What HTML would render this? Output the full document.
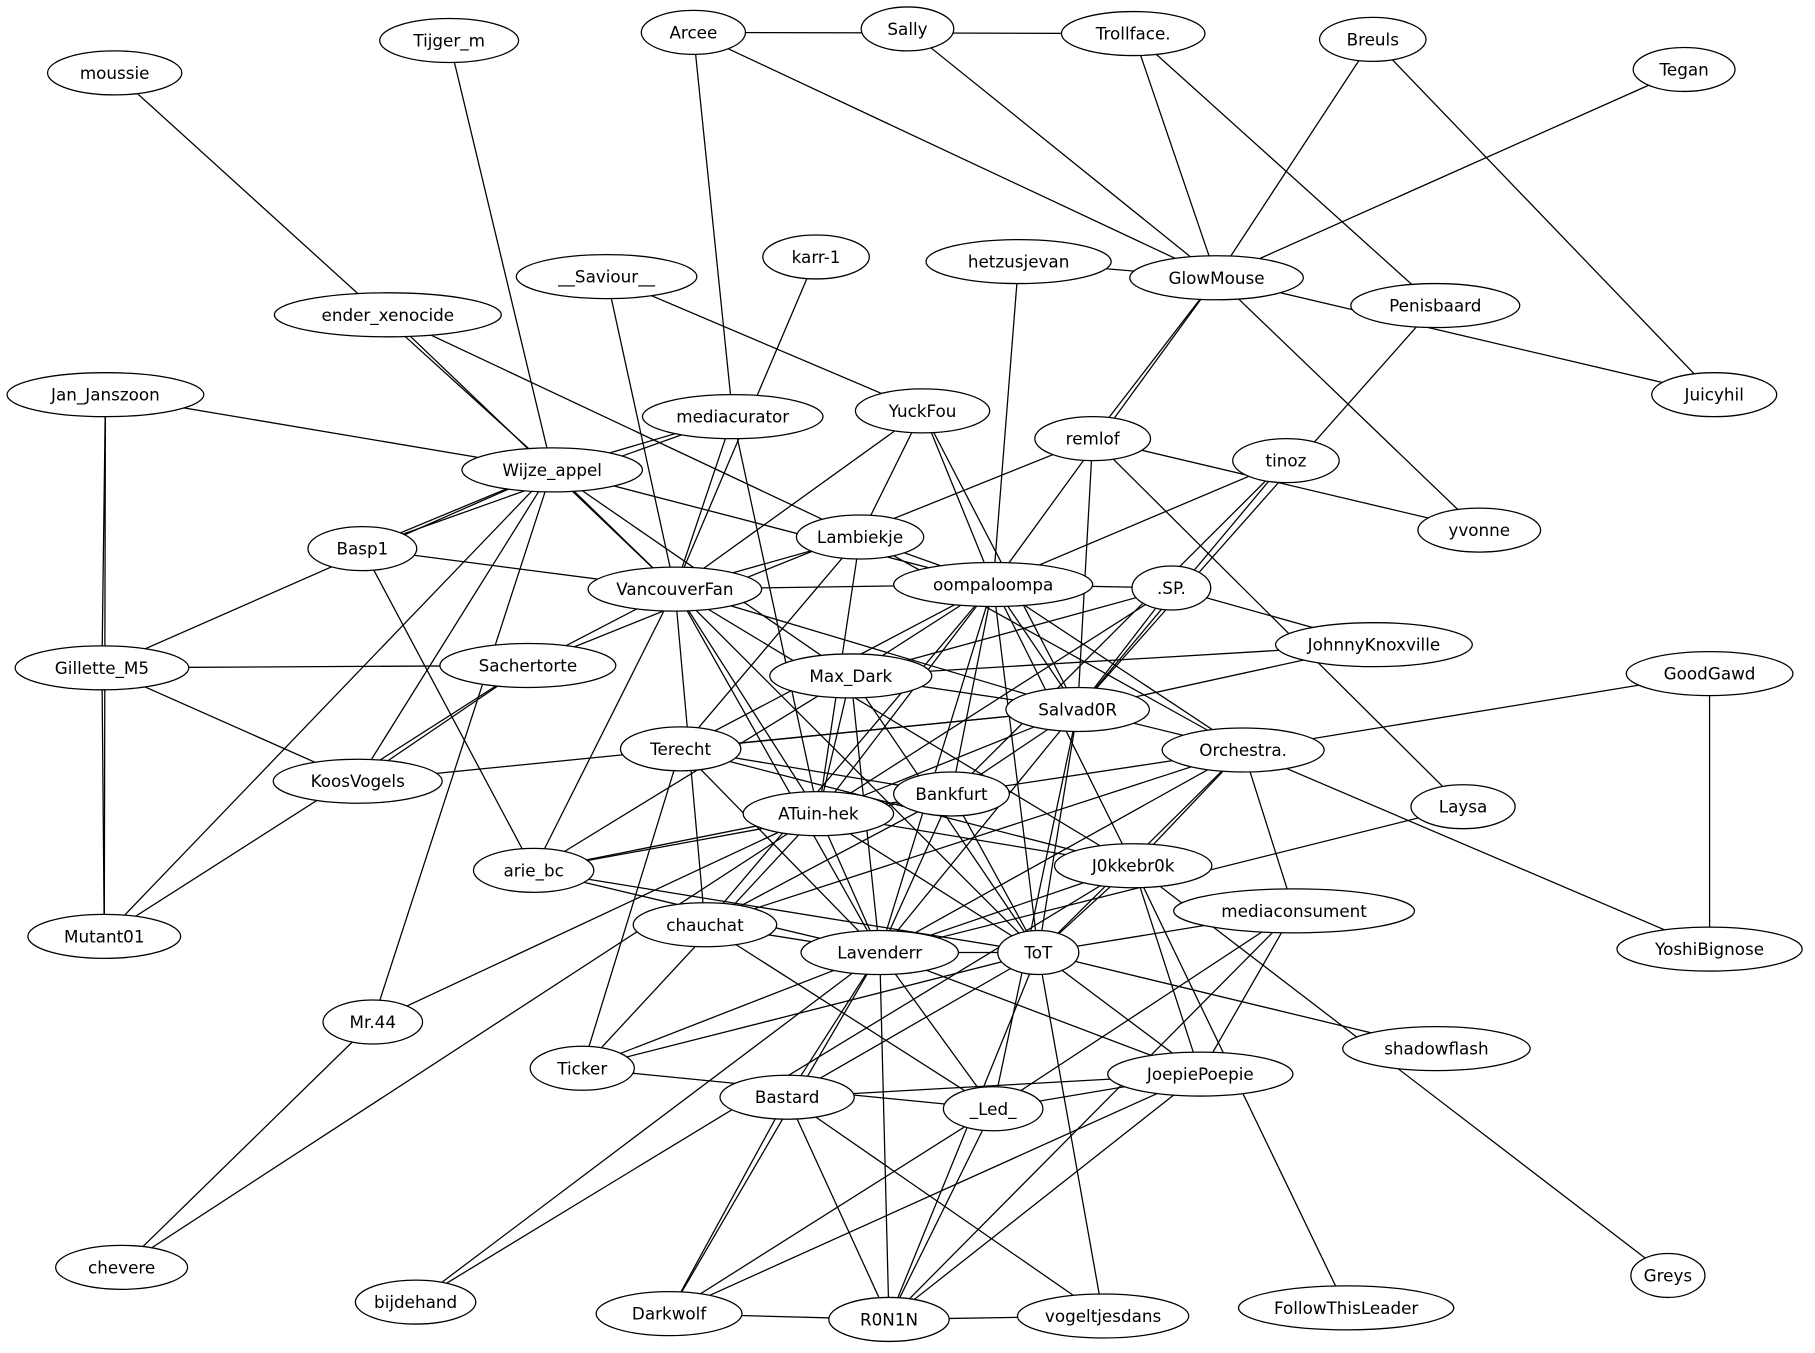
<!DOCTYPE html>
<html><head><meta charset="utf-8"><style>
html,body{margin:0;padding:0;background:#fff;}
svg{display:block;}
text{font-family:"DejaVu Sans","Liberation Sans",sans-serif;font-size:14.5px;fill:#000;text-anchor:middle;dominant-baseline:central;}
ellipse{fill:#fff;stroke:#000;stroke-width:1.1;}
line{stroke:#000;stroke-width:1.1;}
</style></head><body>
<svg id="s" width="1815" height="1353" viewBox="0 0 1568 1169" xmlns="http://www.w3.org/2000/svg">
<rect width="1568" height="1169" fill="#fff"/>
<g id="edges"></g>
<g id="nodes">
<ellipse cx="99" cy="63" rx="58" ry="19"/><text x="99" y="63">moussie</text>
<ellipse cx="388" cy="35" rx="60" ry="19"/><text x="388" y="35">Tijger_m</text>
<ellipse cx="599" cy="28" rx="45" ry="19"/><text x="599" y="28">Arcee</text>
<ellipse cx="784" cy="25" rx="40" ry="19"/><text x="784" y="25">Sally</text>
<ellipse cx="979" cy="29" rx="62" ry="19"/><text x="979" y="29">Trollface.</text>
<ellipse cx="1186" cy="34" rx="46" ry="19"/><text x="1186" y="34">Breuls</text>
<ellipse cx="1455" cy="60" rx="44" ry="19"/><text x="1455" y="60">Tegan</text>
<ellipse cx="705" cy="222" rx="46" ry="19"/><text x="705" y="222">karr-1</text>
<ellipse cx="524" cy="239" rx="78" ry="19"/><text x="524" y="239">__Saviour__</text>
<ellipse cx="880" cy="226" rx="80" ry="19"/><text x="880" y="226">hetzusjevan</text>
<ellipse cx="1051" cy="240" rx="75" ry="19"/><text x="1051" y="240">GlowMouse</text>
<ellipse cx="1240" cy="264" rx="73" ry="19"/><text x="1240" y="264">Penisbaard</text>
<ellipse cx="335" cy="272" rx="98" ry="19"/><text x="335" y="272">ender_xenocide</text>
<ellipse cx="91" cy="341" rx="85" ry="19"/><text x="91" y="341">Jan_Janszoon</text>
<ellipse cx="633" cy="360" rx="78" ry="19"/><text x="633" y="360">mediacurator</text>
<ellipse cx="797" cy="355" rx="58" ry="19"/><text x="797" y="355">YuckFou</text>
<ellipse cx="1481" cy="341" rx="54" ry="19"/><text x="1481" y="341">Juicyhil</text>
<ellipse cx="944" cy="379" rx="50" ry="19"/><text x="944" y="379">remlof</text>
<ellipse cx="1111" cy="398" rx="46" ry="19"/><text x="1111" y="398">tinoz</text>
<ellipse cx="477" cy="406" rx="78" ry="19"/><text x="477" y="406">Wijze_appel</text>
<ellipse cx="313" cy="474" rx="47" ry="19"/><text x="313" y="474">Basp1</text>
<ellipse cx="743" cy="464" rx="55" ry="19"/><text x="743" y="464">Lambiekje</text>
<ellipse cx="1278" cy="458" rx="53" ry="19"/><text x="1278" y="458">yvonne</text>
<ellipse cx="583" cy="509" rx="75" ry="19"/><text x="583" y="509">VancouverFan</text>
<ellipse cx="858" cy="505" rx="86" ry="19"/><text x="858" y="505">oompaloompa</text>
<ellipse cx="1012" cy="508" rx="34" ry="19"/><text x="1012" y="508">.SP.</text>
<ellipse cx="1187" cy="557" rx="85" ry="19"/><text x="1187" y="557">JohnnyKnoxville</text>
<ellipse cx="1477" cy="582" rx="72" ry="19"/><text x="1477" y="582">GoodGawd</text>
<ellipse cx="88" cy="577" rx="75" ry="19"/><text x="88" y="577">Gillette_M5</text>
<ellipse cx="456" cy="575" rx="76" ry="19"/><text x="456" y="575">Sachertorte</text>
<ellipse cx="735" cy="584" rx="70" ry="19"/><text x="735" y="584">Max_Dark</text>
<ellipse cx="931" cy="613" rx="62" ry="19"/><text x="931" y="613">Salvad0R</text>
<ellipse cx="1074" cy="648" rx="70" ry="19"/><text x="1074" y="648">Orchestra.</text>
<ellipse cx="588" cy="647" rx="52" ry="19"/><text x="588" y="647">Terecht</text>
<ellipse cx="309" cy="675" rx="73" ry="19"/><text x="309" y="675">KoosVogels</text>
<ellipse cx="822" cy="686" rx="50" ry="19"/><text x="822" y="686">Bankfurt</text>
<ellipse cx="707" cy="703" rx="65" ry="19"/><text x="707" y="703">ATuin-hek</text>
<ellipse cx="1264" cy="697" rx="45" ry="19"/><text x="1264" y="697">Laysa</text>
<ellipse cx="461" cy="752" rx="52" ry="19"/><text x="461" y="752">arie_bc</text>
<ellipse cx="979" cy="748" rx="68" ry="19"/><text x="979" y="748">J0kkebr0k</text>
<ellipse cx="1118" cy="787" rx="104" ry="19"/><text x="1118" y="787">mediaconsument</text>
<ellipse cx="609" cy="799" rx="62" ry="19"/><text x="609" y="799">chauchat</text>
<ellipse cx="760" cy="823" rx="68" ry="19"/><text x="760" y="823">Lavenderr</text>
<ellipse cx="897" cy="823" rx="35" ry="19"/><text x="897" y="823">ToT</text>
<ellipse cx="90" cy="809" rx="66" ry="19"/><text x="90" y="809">Mutant01</text>
<ellipse cx="1477" cy="820" rx="80" ry="19"/><text x="1477" y="820">YoshiBignose</text>
<ellipse cx="322" cy="883" rx="43" ry="19"/><text x="322" y="883">Mr.44</text>
<ellipse cx="1241" cy="906" rx="81" ry="19"/><text x="1241" y="906">shadowflash</text>
<ellipse cx="503" cy="923" rx="45" ry="19"/><text x="503" y="923">Ticker</text>
<ellipse cx="1037" cy="928" rx="80" ry="19"/><text x="1037" y="928">JoepiePoepie</text>
<ellipse cx="680" cy="948" rx="58" ry="19"/><text x="680" y="948">Bastard</text>
<ellipse cx="858" cy="958" rx="43" ry="19"/><text x="858" y="958">_Led_</text>
<ellipse cx="105" cy="1095" rx="57" ry="19"/><text x="105" y="1095">chevere</text>
<ellipse cx="359" cy="1125" rx="52" ry="19"/><text x="359" y="1125">bijdehand</text>
<ellipse cx="578" cy="1135" rx="63" ry="19"/><text x="578" y="1135">Darkwolf</text>
<ellipse cx="768" cy="1140" rx="52" ry="19"/><text x="768" y="1140">R0N1N</text>
<ellipse cx="953" cy="1137" rx="74" ry="19"/><text x="953" y="1137">vogeltjesdans</text>
<ellipse cx="1163" cy="1130" rx="93" ry="19"/><text x="1163" y="1130">FollowThisLeader</text>
<ellipse cx="1441" cy="1102" rx="32" ry="19"/><text x="1441" y="1102">Greys</text>
</g>
</svg>
<script>
var P={};
document.querySelectorAll('#nodes text').forEach(function(t){P[t.textContent]=[+t.getAttribute('x'),+t.getAttribute('y')];});
var E="Arcee-Trollface.|Arcee-GlowMouse|Arcee-mediacurator|Sally-GlowMouse|Trollface.-GlowMouse|Trollface.-Penisbaard|Breuls-GlowMouse|Breuls-Juicyhil|Tegan-GlowMouse|hetzusjevan-GlowMouse|hetzusjevan-oompaloompa|GlowMouse-Juicyhil|GlowMouse-yvonne|GlowMouse-remlof|GlowMouse-oompaloompa|Penisbaard-Salvad0R|moussie-Wijze_appel|Tijger_m-Wijze_appel|karr-1-VancouverFan|__Saviour__-VancouverFan|__Saviour__-YuckFou|ender_xenocide-VancouverFan|ender_xenocide-Lambiekje|Jan_Janszoon-Wijze_appel|Jan_Janszoon-Gillette_M5|Jan_Janszoon-Mutant01|mediacurator-Basp1|mediacurator-VancouverFan|mediacurator-Wijze_appel|mediacurator-ATuin-hek|YuckFou-VancouverFan|YuckFou-Lambiekje|YuckFou-oompaloompa|YuckFou-Salvad0R|remlof-yvonne|remlof-Laysa|remlof-Salvad0R|remlof-Sachertorte|tinoz-oompaloompa|tinoz-Bankfurt|tinoz-Salvad0R|Wijze_appel-Basp1|Wijze_appel-VancouverFan|Wijze_appel-oompaloompa|Wijze_appel-Gillette_M5|Wijze_appel-KoosVogels|Wijze_appel-Mutant01|Wijze_appel-Mr.44|Wijze_appel-Max_Dark|Basp1-VancouverFan|Basp1-arie_bc|Lambiekje-oompaloompa|Lambiekje-VancouverFan|Lambiekje-Terecht|Lambiekje-Orchestra.|Lambiekje-ATuin-hek|VancouverFan-oompaloompa|VancouverFan-Sachertorte|VancouverFan-Salvad0R|VancouverFan-arie_bc|VancouverFan-ATuin-hek|VancouverFan-J0kkebr0k|VancouverFan-ToT|VancouverFan-chauchat|VancouverFan-Lavenderr|oompaloompa-.SP.|oompaloompa-Max_Dark|oompaloompa-Salvad0R|oompaloompa-Orchestra.|oompaloompa-Bankfurt|oompaloompa-ATuin-hek|oompaloompa-Lavenderr|oompaloompa-ToT|oompaloompa-J0kkebr0k|oompaloompa-Terecht|oompaloompa-chauchat|.SP.-JohnnyKnoxville|.SP.-Salvad0R|.SP.-Max_Dark|.SP.-ATuin-hek|JohnnyKnoxville-Max_Dark|JohnnyKnoxville-Salvad0R|GoodGawd-Orchestra.|GoodGawd-YoshiBignose|Gillette_M5-Sachertorte|Gillette_M5-KoosVogels|Gillette_M5-Mutant01|Sachertorte-KoosVogels|Sachertorte-Mutant01|Max_Dark-Salvad0R|Max_Dark-ATuin-hek|Max_Dark-ToT|Max_Dark-Lavenderr|Max_Dark-arie_bc|Salvad0R-Orchestra.|Salvad0R-Terecht|Salvad0R-Bankfurt|Salvad0R-ATuin-hek|Salvad0R-ToT|Salvad0R-Lavenderr|Salvad0R-_Led_|Salvad0R-KoosVogels|Orchestra.-YoshiBignose|Orchestra.-Bankfurt|Orchestra.-J0kkebr0k|Orchestra.-Lavenderr|Orchestra.-ToT|Orchestra.-mediaconsument|Orchestra.-chauchat|Terecht-Bankfurt|Terecht-J0kkebr0k|Terecht-Ticker|Terecht-Lavenderr|Bankfurt-ATuin-hek|Bankfurt-Lavenderr|Bankfurt-ToT|Bankfurt-chauchat|Bankfurt-arie_bc|ATuin-hek-arie_bc|ATuin-hek-J0kkebr0k|ATuin-hek-Lavenderr|ATuin-hek-ToT|ATuin-hek-Mr.44|ATuin-hek-chevere|ATuin-hek-Ticker|Laysa-Lavenderr|arie_bc-Lavenderr|arie_bc-ToT|J0kkebr0k-Lavenderr|J0kkebr0k-ToT|J0kkebr0k-JoepiePoepie|J0kkebr0k-FollowThisLeader|J0kkebr0k-Greys|J0kkebr0k-bijdehand|mediaconsument-ToT|mediaconsument-JoepiePoepie|mediaconsument-_Led_|mediaconsument-R0N1N|chauchat-Lavenderr|chauchat-_Led_|Lavenderr-ToT|Lavenderr-Ticker|Lavenderr-Bastard|Lavenderr-_Led_|Lavenderr-JoepiePoepie|Lavenderr-R0N1N|Lavenderr-Darkwolf|Lavenderr-bijdehand|ToT-shadowflash|ToT-JoepiePoepie|ToT-Bastard|ToT-R0N1N|ToT-vogeltjesdans|ToT-Ticker|Mr.44-chevere|Ticker-_Led_|JoepiePoepie-Bastard|JoepiePoepie-_Led_|JoepiePoepie-Darkwolf|JoepiePoepie-R0N1N|Bastard-Darkwolf|Bastard-R0N1N|Bastard-vogeltjesdans|_Led_-Darkwolf|_Led_-R0N1N|Darkwolf-R0N1N|R0N1N-vogeltjesdans";
var names=Object.keys(P).sort(function(a,b){return b.length-a.length;});
var g=document.getElementById('edges'),ns='http://www.w3.org/2000/svg';
E.split('|').forEach(function(e){
  var a=null,b=null;
  for(var i=0;i<names.length;i++){var n=names[i];if(e.indexOf(n+'-')===0&&P[e.slice(n.length+1)]){a=n;b=e.slice(n.length+1);break;}}
  if(!a)return;
  var l=document.createElementNS(ns,'line');
  l.setAttribute('x1',P[a][0]);l.setAttribute('y1',P[a][1]);
  l.setAttribute('x2',P[b][0]);l.setAttribute('y2',P[b][1]);
  g.appendChild(l);
});
</script>
</body></html>
